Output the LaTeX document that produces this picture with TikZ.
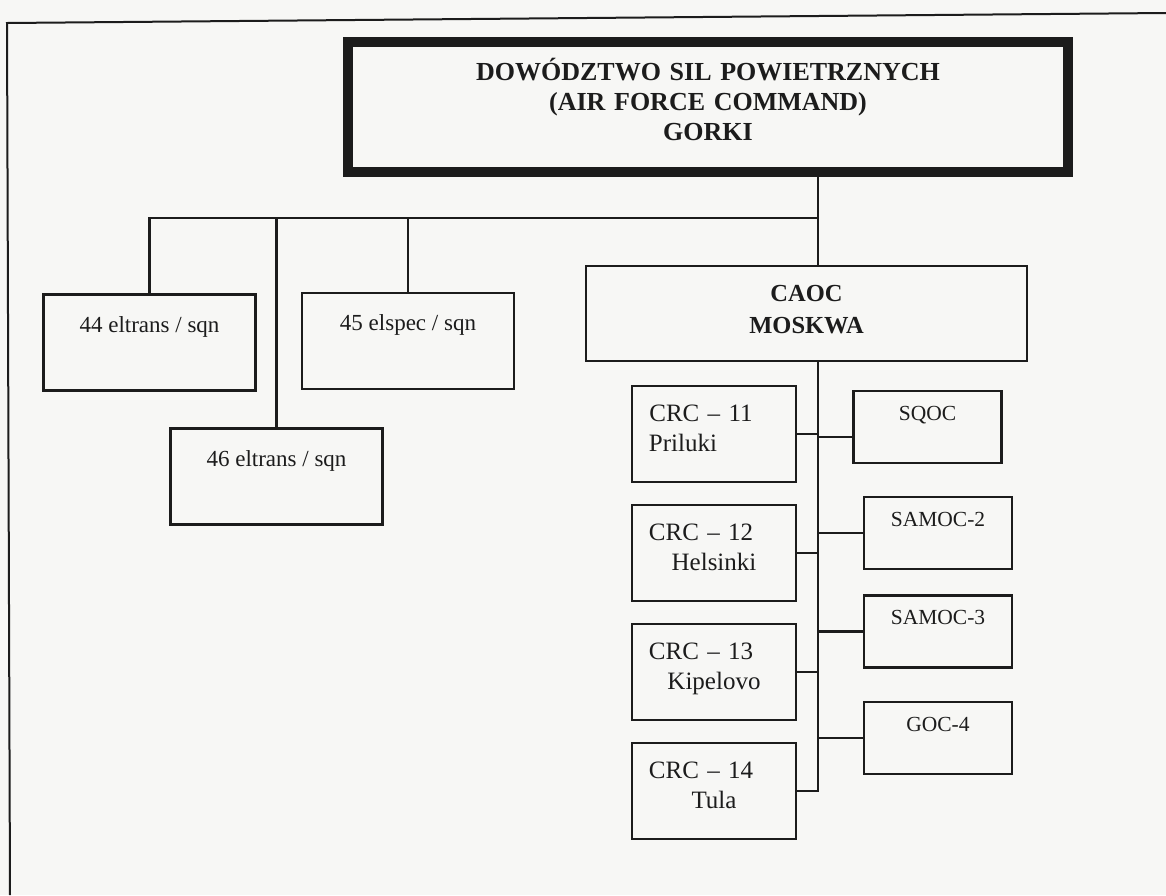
\documentclass[tikz,border=0pt]{standalone}
\usepackage{fontspec}
\setmainfont{Liberation Serif}
\usetikzlibrary{positioning}

\definecolor{paper}{RGB}{247,247,245}
\definecolor{ink}{RGB}{28,28,28}

% two-line label of a control and reporting centre
\newcommand{\crcname}[2]{CRC – #1\rule{26pt}{0pt}\\#2}

\begin{document}
\begin{tikzpicture}[
    x=1pt, y=-1pt,
    node distance=20.5pt,
    unit/.style={draw=ink, text=ink, line width=2.5pt, inner sep=0pt},
    command/.style={unit, line width=10pt, minimum width=720pt, minimum height=130pt, text width=720pt,
        font=\bfseries\fontsize{26}{30}\selectfont, align=center, text height=18pt, text depth=71pt},
    caocbox/.style={unit, minimum width=441pt, minimum height=95pt, text width=441pt,
        font=\bfseries\fontsize{24.5}{32}\selectfont, align=center, text height=17pt, text depth=42pt},
    sqnbox/.style={unit, minimum width=212pt, minimum height=96pt,
        font=\fontsize{23}{27}\selectfont, text height=16pt, text depth=37pt},
    crcbox/.style={unit, minimum width=164pt, minimum height=96pt, text width=164pt,
        font=\fontsize{25}{30}\selectfont, align=center, text height=17pt, text depth=42pt},
    ocbox/.style={unit, minimum width=148pt, minimum height=72pt,
        font=\fontsize{21.5}{25}\selectfont, text height=15pt, text depth=29pt},
    link/.style={draw=ink, line width=2.5pt}
]
    \useasboundingbox (0,0) rectangle (1166,895);
    \fill[paper] (0,0) rectangle (1166,895);
    % page frame of the scan
    \draw[ink, line width=2pt] (10,895) -- (7,23) -- (1166,13);

    \node[command] (gorki) at (708,107) {DOWÓDZTWO SIL POWIETRZNYCH\\(AIR FORCE COMMAND)\\GORKI};
    \node[caocbox] (caoc) at (806.5,313.5) {CAOC\\MOSKWA};

    \node[sqnbox] (sqn44) at (149.5,342.5) {44 eltrans / sqn};
    \node[sqnbox] (sqn45) at (408,341)     {45 elspec / sqn};
    \node[sqnbox] (sqn46) at (276.5,476.5) {46 eltrans / sqn};

    \node[crcbox]                   (crc11) at (714,434) {\crcname{11}{Priluki\rule{62pt}{0pt}}};
    \node[crcbox, below=of crc11]   (crc12) {\crcname{12}{Helsinki}};
    \node[crcbox, below=of crc12]   (crc13) {\crcname{13}{Kipelovo}};
    \node[crcbox, below=of crc13]   (crc14) {\crcname{14}{Tula}};

    \node[ocbox] (sqoc)   at (927.5,427) {SQOC};
    \node[ocbox] (samoc2) at (938,533)   {SAMOC-2};
    \node[ocbox] (samoc3) at (938,631.5) {SAMOC-3};
    \node[ocbox] (goc4)   at (938,738)   {GOC-4};

    \coordinate (trunk) at (818,218);

    % command to squadrons and CAOC
    \draw[link] (gorki.south -| trunk) -- (caoc.north -| trunk);
    \draw[link] (trunk) -| (sqn44.north);
    \draw[link] (trunk -| sqn46.north) -- (sqn46.north);
    \draw[link] (trunk -| sqn45.north) -- (sqn45.north);

    % CAOC bus
    \draw[link] (caoc.south -| trunk) -- (crc14.east -| trunk) -- (crc14.east);
    \foreach \c in {crc11,crc12,crc13}
        \draw[link] (\c.east) -- (\c.east -| trunk);
    \draw[link] ([yshift=-10pt]sqoc.west) -- ([yshift=-10pt]sqoc.west -| trunk);
    \foreach \c in {samoc2,samoc3,goc4}
        \draw[link] (\c.west) -- (\c.west -| trunk);
\end{tikzpicture}
\end{document}
